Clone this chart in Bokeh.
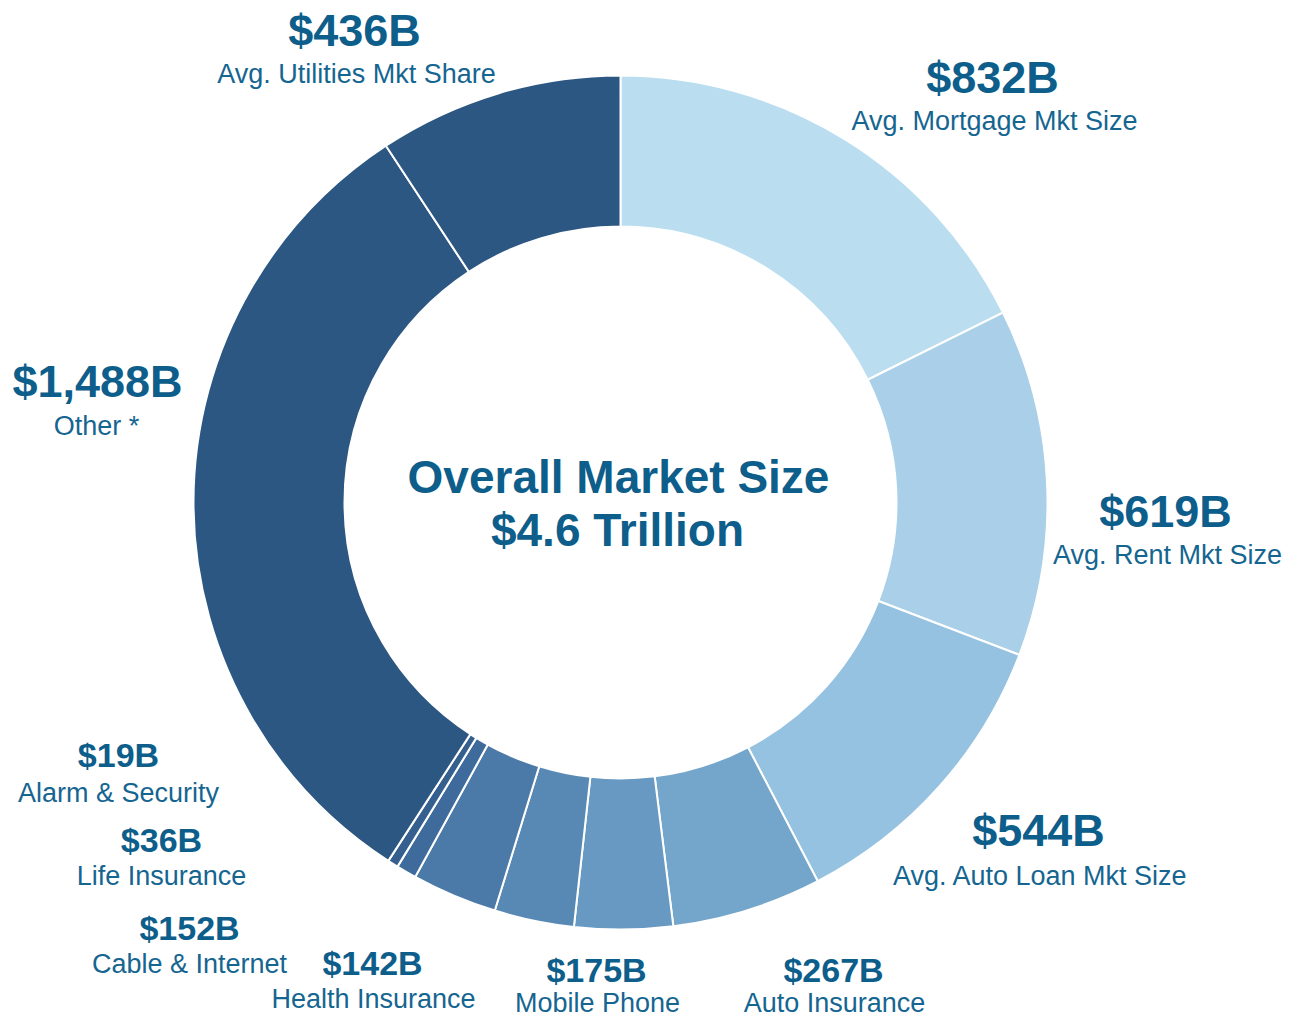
import numpy as np
from bokeh.plotting import figure
from bokeh.models import Range1d, ColumnDataSource
from bokeh.core.properties import value
from bokeh.embed import file_html
from bokeh.resources import INLINE

# ---- data (clockwise from 12 o'clock) ----
categories = ["Avg. Mortgage Mkt Size", "Avg. Rent Mkt Size", "Avg. Auto Loan Mkt Size",
              "Auto Insurance", "Mobile Phone", "Health Insurance", "Cable & Internet",
              "Life Insurance", "Alarm & Security", "Other *", "Avg. Utilities Mkt Share"]
values = [832, 619, 544, 267, 175, 142, 152, 36, 19, 1488, 436]
colors = ["#BADEF0", "#A9D0E8", "#95C2E0", "#74A6CB", "#6799C2", "#5889B5",
          "#4B79A8", "#3E6B9B", "#355F8E", "#2C5782", "#2C5782"]
center_title = ["Overall Market Size", "$4.6 Trillion"]

# ---- layout ----
W, H = 1291, 1020
cx, cy = 620, 502          # picture coords of donut centre
r_out, r_in = 427, 276

# label anchors (x centre, value baseline, description baseline, value font size px)
label_x = [992, 1165, 1038, 833, 596, 372, 189, 161, 118, 97, 354]
val_base = [93, 527, 846, 982, 982, 975, 940, 852, 767, 397, 46]
desc_x = [994, 1167, 1040, 834, 597, 373, 189, 161, 118, 96, 356]
desc_base = [130, 564, 885, 1012, 1012, 1008, 973, 885, 802, 435, 83]
val_px = [45, 45, 45, 34, 34, 34, 34, 34, 34, 45, 45]
desc_px = 27
title_px = 46
SHIFT = 0.36  # renderer puts alphabetic baseline this many em lower

total = sum(values)
cum = np.cumsum(values)
prev = np.concatenate([[0], cum[:-1]])
start = np.pi / 2 - 2 * np.pi * prev / total
end = np.pi / 2 - 2 * np.pi * cum / total

p = figure(width=W, height=H, output_backend="svg", toolbar_location=None,
           x_range=Range1d(0, W), y_range=Range1d(-H, 0),
           min_border=0)
p.axis.visible = False
p.grid.visible = False
p.outline_line_color = None
p.background_fill_color = "white"

src = ColumnDataSource(dict(start=start, end=end, color=colors,
                            x=[cx] * len(values), y=[-cy] * len(values)))
p.annular_wedge(x="x", y="y", inner_radius=r_in, outer_radius=r_out,
                start_angle="start", end_angle="end", direction="clock",
                fill_color="color", line_color="white", line_width=2, source=src)

val_color = "#0D5E8B"
desc_color = "#156591"

lab = ColumnDataSource(dict(
    x=label_x, y=[-(b - SHIFT * s) for b, s in zip(val_base, val_px)],
    text=[f"${v:,}B" for v in values], size=[f"{s}px" for s in val_px]))
p.text(x="x", y="y", text="text", source=lab, text_font=value("Liberation Sans"),
       text_font_style="bold", text_font_size="size", text_color=val_color,
       text_align="center", text_baseline="alphabetic")

dsc = ColumnDataSource(dict(x=desc_x, y=[-(b - SHIFT * desc_px) for b in desc_base],
                            text=categories))
p.text(x="x", y="y", text="text", source=dsc, text_font=value("Liberation Sans"),
       text_font_size=f"{desc_px}px", text_color=desc_color,
       text_align="center", text_baseline="alphabetic")

ctr = ColumnDataSource(dict(x=[618, 617],
                            y=[-(493 - SHIFT * title_px), -(546 - SHIFT * title_px)],
                            text=center_title))
p.text(x="x", y="y", text="text", source=ctr, text_font=value("Liberation Sans"),
       text_font_style="bold", text_font_size=f"{title_px}px", text_color=val_color,
       text_align="center", text_baseline="alphabetic")

open("out.html", "w").write(file_html(p, INLINE))
